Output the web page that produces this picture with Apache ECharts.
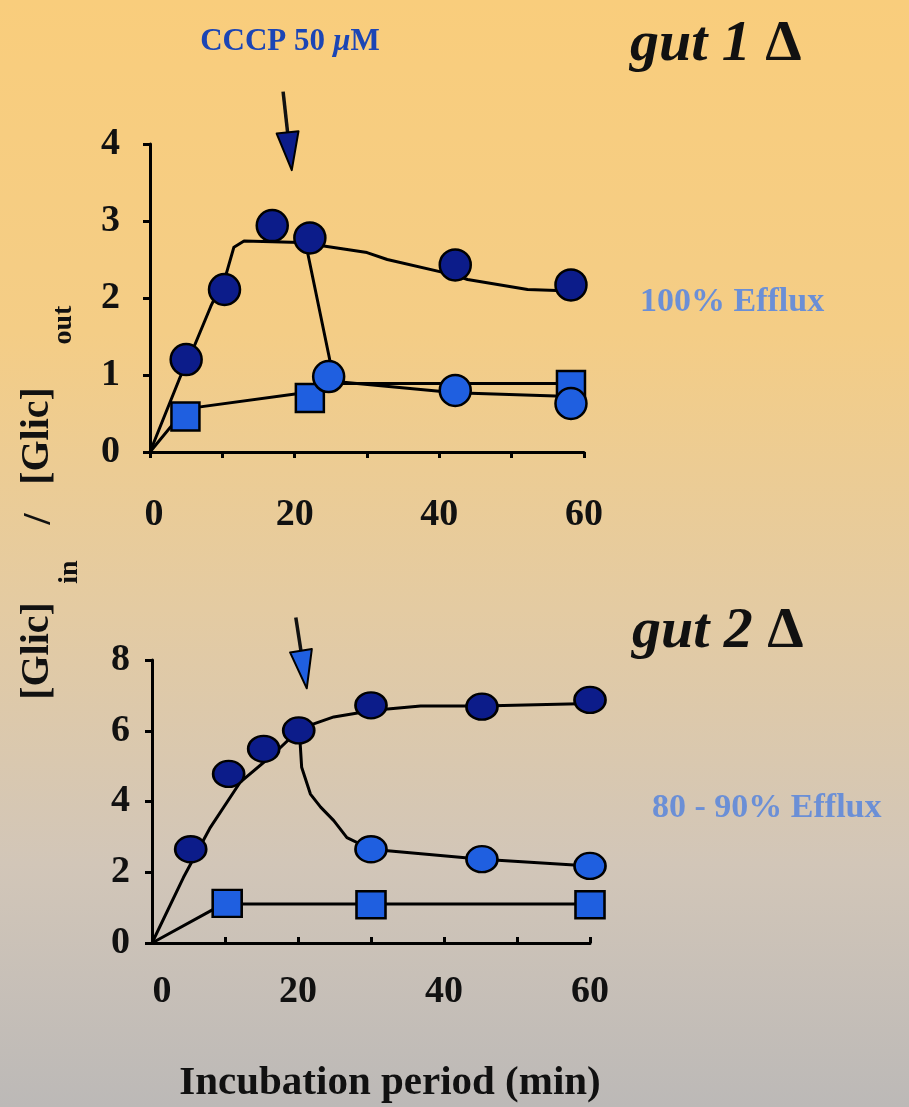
<!DOCTYPE html>
<html><head><meta charset="utf-8">
<script src="https://cdn.jsdelivr.net/npm/echarts@6/dist/echarts.min.js"></script>
<style>html,body{margin:0;padding:0;background:#fff}#c{width:909px;height:1107px;}</style>
</head><body><div id="c"></div>
<script>
// ---------- data : gut 1 Δ (top panel) ----------
const gut1CtrlTime  = [5, 10.3, 16.9, 22.1, 42.2, 58.2];
const gut1CtrlValue = [1.2, 2.11, 2.94, 2.78, 2.43, 2.17];
const gut1CcpTime   = [24.7, 42.2, 58.2];
const gut1CcpValue  = [0.98, 0.8, 0.63];
const gut1SqTime    = [4.9, 22.1, 58.2];
const gut1SqValue   = [0.46, 0.7, 0.87];
// fitted curves
const gut1CtrlFitTime  = [0, 4.2, 6.1, 8.4, 10.5, 11.6, 13, 20.8, 30, 32.8, 42, 43.9, 52.2, 58.2];
const gut1CtrlFitValue = [0, 0.98, 1.37, 1.89, 2.3, 2.66, 2.74, 2.72, 2.59, 2.5, 2.3, 2.24, 2.11, 2.09];
const gut1CcpFitTime   = [21.5, 25, 26.4, 42.2, 58.2, 60];
const gut1CcpFitValue  = [2.72, 1.13, 0.91, 0.77, 0.72, 0.75];
const gut1SqFitTime    = [0, 4.9, 22.1, 26.4, 60];
const gut1SqFitValue   = [0, 0.56, 0.78, 0.89, 0.89];
const gut1YTicks = [0, 1, 2, 3, 4];
const gut1ArrowStart = [18.4, 4.68];
const gut1ArrowTip   = [19.6, 3.66];

// ---------- data : gut 2 Δ (bottom panel) ----------
const gut2CtrlTime  = [5.3, 10.5, 15.3, 20.1, 30, 45.2, 60];
const gut2CtrlValue = [2.65, 4.78, 5.49, 6.01, 6.72, 6.68, 6.87];
const gut2CcpTime   = [30, 45.2, 60];
const gut2CcpValue  = [2.65, 2.37, 2.18];
const gut2SqTime    = [10.3, 30, 60];
const gut2SqValue   = [1.12, 1.08, 1.08];
const gut2CtrlFitTime  = [0, 4.3, 8, 12.1, 16.7, 20.3, 24.9, 30.4, 36.8, 45.2, 60];
const gut2CtrlFitValue = [0, 1.85, 3.27, 4.55, 5.35, 6.06, 6.39, 6.58, 6.7, 6.7, 6.77];
const gut2CcpFitTime   = [20.3, 20.5, 21.7, 23.1, 24.9, 26.7, 30, 45.2, 60];
const gut2CcpFitValue  = [5.63, 4.97, 4.21, 3.84, 3.46, 2.98, 2.65, 2.37, 2.18];
const gut2SqFitTime    = [0, 8.4, 10.3, 60];
const gut2SqFitValue   = [0, 0.95, 1.1, 1.1];
const gut2YTicks = [0, 2, 4, 6, 8];
const gut2ArrowStart = [19.7, 9.2];
const gut2ArrowTip   = [21.2, 7.2];

const xTicks = [0, 20, 40, 60];

// ---------- styling ----------
const FONT = "'Liberation Serif', 'Times New Roman', serif";
const NAVY = '#0c1c8a';
const BLUE = '#1f5fe0';
const EFFLUX = '#6b8fd6';

const pts = (xs, ys) => xs.map((x, i) => [x, ys[i]]);

const chart = echarts.init(document.getElementById('c'));

function xAxisFor(i, margin, inside, zeroPad) {
  return {
    type: 'value', gridIndex: i, min: 0, max: 60, interval: 10,
    axisLine: { show: true, onZero: false, lineStyle: { color: '#000', width: 3 } },
    axisTick: { show: true, inside: inside, length: 6, lineStyle: { color: '#000', width: 3 } },
    splitLine: { show: false },
    axisLabel: {
      formatter: v => (xTicks.indexOf(v) < 0 ? '' : (v === 0 ? '{z|0}' : String(v))),
      fontFamily: FONT, fontWeight: 'bold', fontSize: 38, color: '#111', margin: margin,
      rich: { z: { fontFamily: FONT, fontWeight: 'bold', fontSize: 38, color: '#111', padding: [0, 0, 0, zeroPad] } }
    }
  };
}
function yAxisFor(i, ticks, margin) {
  const step = ticks[1] - ticks[0];
  return {
    type: 'value', gridIndex: i, min: ticks[0], max: ticks[ticks.length - 1], interval: step,
    axisLine: { show: true, onZero: false, lineStyle: { color: '#000', width: 3 } },
    axisTick: { show: true, inside: false, length: 7, lineStyle: { color: '#000', width: 3 } },
    splitLine: { show: false },
    axisLabel: { fontFamily: FONT, fontWeight: 'bold', fontSize: 38, color: '#111', margin: margin }
  };
}
function fit(i, xs, ys) {
  return {
    type: 'line', xAxisIndex: i, yAxisIndex: i, data: pts(xs, ys),
    smooth: false, showSymbol: false, symbol: 'none',
    lineStyle: { color: '#000', width: 3, join: 'round' }, z: 2, silent: true
  };
}
function marks(i, xs, ys, symbol, size, color) {
  return {
    type: 'scatter', xAxisIndex: i, yAxisIndex: i, data: pts(xs, ys),
    symbol: symbol, symbolSize: size,
    itemStyle: { color: color, borderColor: '#000', borderWidth: 2.5, opacity: 1 }, z: 5
  };
}

chart.setOption({
  animation: false,
  backgroundColor: {
    type: 'linear', x: 0, y: 0, x2: 0, y2: 1,
    colorStops: [
      { offset: 0, color: '#f9cd7c' },
      { offset: 0.3, color: '#f4cd86' },
      { offset: 0.55, color: '#e4cba2' },
      { offset: 0.78, color: '#d2c6b8' },
      { offset: 1, color: '#bcb9b7' }
    ]
  },
  grid: [
    { left: 150, top: 144, width: 434, height: 308 },
    { left: 152, top: 660, width: 438, height: 283 }
  ],
  xAxis: [xAxisFor(0, 44, false, 8), xAxisFor(1, 30, true, 20)],
  yAxis: [yAxisFor(0, gut1YTicks, 30), yAxisFor(1, gut2YTicks, 22)],
  series: [
    fit(0, gut1CtrlFitTime, gut1CtrlFitValue),
    fit(0, gut1CcpFitTime, gut1CcpFitValue),
    fit(0, gut1SqFitTime, gut1SqFitValue),
    marks(0, gut1SqTime, gut1SqValue, 'rect', 28, BLUE),
    marks(0, gut1CcpTime, gut1CcpValue, 'circle', 31, BLUE),
    marks(0, gut1CtrlTime, gut1CtrlValue, 'circle', 31, NAVY),
    fit(1, gut2CtrlFitTime, gut2CtrlFitValue),
    fit(1, gut2CcpFitTime, gut2CcpFitValue),
    fit(1, gut2SqFitTime, gut2SqFitValue),
    marks(1, gut2SqTime, gut2SqValue, 'rect', [29, 27], BLUE),
    marks(1, gut2CcpTime, gut2CcpValue, 'circle', [31, 26], BLUE),
    marks(1, gut2CtrlTime, gut2CtrlValue, 'circle', [31, 26], NAVY)
  ]
});

function arrow(gridIndex, start, tip, fill) {
  const a = chart.convertToPixel({ xAxisIndex: gridIndex, yAxisIndex: gridIndex }, start);
  const b = chart.convertToPixel({ xAxisIndex: gridIndex, yAxisIndex: gridIndex }, tip);
  const dx = b[0] - a[0], dy = b[1] - a[1];
  const len = Math.sqrt(dx * dx + dy * dy);
  const ux = dx / len, uy = dy / len, px = -uy, py = ux;
  const L = 38, W = 11;
  const c = [b[0] - ux * L, b[1] - uy * L];
  return [
    { type: 'line', z: 10, shape: { x1: a[0], y1: a[1], x2: c[0], y2: c[1] },
      style: { stroke: '#111', lineWidth: 3.5 } },
    { type: 'polygon', z: 10,
      shape: { points: [[c[0] + px * W, c[1] + py * W], [b[0], b[1]], [c[0] - px * W, c[1] - py * W]] },
      style: { fill: fill, stroke: '#000', lineWidth: 2, lineJoin: 'round' } }
  ];
}

function rotText(x, y, text, size) {
  return { type: 'text', x: x, y: y, rotation: Math.PI / 2, z: 10,
    style: { text: text, x: 0, y: 0, align: 'center', verticalAlign: 'middle',
      font: 'bold ' + size + 'px ' + FONT, fill: '#111' } };
}
function gutTitle(x, y, num) {
  return { type: 'text', x: x, y: y, z: 10, style: {
    text: '{g|gut ' + num + ' }{d|Δ}', align: 'left', verticalAlign: 'middle',
    rich: {
      g: { fontFamily: FONT, fontStyle: 'italic', fontWeight: 'bold', fontSize: 58, fill: '#111' },
      d: { fontFamily: FONT, fontWeight: 'bold', fontSize: 58, fill: '#111' }
    } } };
}

const graphics = [].concat(
  arrow(0, gut1ArrowStart, gut1ArrowTip, NAVY),
  arrow(1, gut2ArrowStart, gut2ArrowTip, BLUE),
  [
    { type: 'text', x: 290, y: 42, z: 10, style: {
        text: '{a|CCCP 50 }{m|µ}{a|M}', align: 'center', verticalAlign: 'middle',
        rich: {
          a: { fontFamily: FONT, fontWeight: 'bold', fontSize: 31, fill: '#1b45b5' },
          m: { fontFamily: FONT, fontWeight: 'bold', fontStyle: 'italic', fontSize: 31, fill: '#1b45b5' }
        } } },
    gutTitle(630, 45, 1),
    gutTitle(632, 632, 2),
    { type: 'text', x: 640, y: 302, z: 10, style: {
        text: '100% Efflux', align: 'left', verticalAlign: 'middle',
        font: 'bold 34px ' + FONT, fill: EFFLUX } },
    { type: 'text', x: 652, y: 808, z: 10, style: {
        text: '80 - 90% Efflux', align: 'left', verticalAlign: 'middle',
        font: 'bold 34px ' + FONT, fill: EFFLUX } },
    { type: 'text', x: 390, y: 1083, z: 10, style: {
        text: 'Incubation period (min)', align: 'center', verticalAlign: 'middle',
        font: 'bold 41px ' + FONT, fill: '#111' } },
    rotText(38, 651, '[Glic]', 40),
    rotText(70, 572, 'in', 28),
    rotText(40, 519, '/', 40),
    rotText(38, 436, '[Glic]', 40),
    rotText(64, 325, 'out', 28)
  ]
);
chart.setOption({ graphic: graphics });
</script>
</body></html>
